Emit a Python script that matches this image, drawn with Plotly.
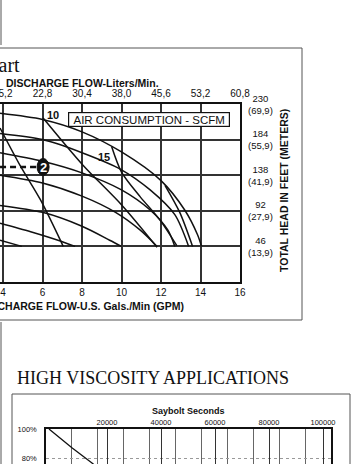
import plotly.graph_objects as go

W, H = 352, 464

# ---------------- main performance chart data ----------------
gpm_ticks = [4, 6, 8, 10, 12, 14, 16]
lpm_ticks = [15.2, 22.8, 30.4, 38.0, 45.6, 53.2, 60.8]
lpm_labels = ["15,2", "22,8", "30,4", "38,0", "45,6", "53,2", "60,8"]
head_ticks = [46, 92, 138, 184, 230]
meter_labels = ["(13,9)", "(27,9)", "(41,9)", "(55,9)", "(69,9)"]

# head curves (GPM, ft)
c1_gpm = [3.85, 6.0, 8.0, 10.0, 12.0, 13.2, 13.85, 14.05]
c1_head = [218, 210, 194, 168, 131, 93, 61, 46]
c2_gpm = [3.85, 6.0, 8.0, 10.0, 11.45, 12.7, 13.4]
c2_head = [192, 184, 167, 145, 119, 87, 46]
c3_gpm = [3.85, 6.0, 8.0, 10.0, 11.45, 12.35, 12.7]
c3_head = [167, 156, 141, 119, 93, 67, 46]
c4_gpm = [3.85, 6.0, 8.0, 9.7, 10.95, 11.8]
c4_head = [138, 128, 111, 90, 67, 46]
c5_gpm = [3.85, 6.0, 8.0, 9.4, 10.0]
c5_head = [99, 90, 72, 54, 46]
c6_gpm = [3.85, 5.4, 6.9, 7.65]
c6_head = [76, 65, 53, 46]
c7_gpm = [3.85, 4.95]
c7_head = [54, 46]

# air consumption curves (GPM, ft)
a5_gpm = [3.85, 4.9, 5.9, 7.05]
a5_head = [199, 149, 106, 46]
a10_gpm = [6.03, 8.05, 10.03, 11.8]
a10_head = [212, 151, 99, 45]
a15_gpm = [9.5, 10.0, 10.95, 11.95, 12.8]
a15_head = [175, 142, 110, 80, 47]
a20_gpm = [12.2, 12.95, 13.6]
a20_head = [125, 90, 46]

scfm_labels = ["10", "15"]
scfm_label_gpm = [6.53, 9.11]
scfm_label_head = [215.8, 161.5]

example_label = "2"
example_gpm = 6.03
example_head = 148.6
example_line_gpm = [3.85, 5.7]

# ---------------- high viscosity chart data ----------------
cps_range = [0, 22000]
ssu_ticks = [20000, 40000, 60000, 80000, 100000]
pct_ticks = [80, 100]
pct_labels = ["80%", "100%"]
visc_cps = [230, 2000, 3550, 4200]
visc_pct = [100, 87, 76.5, 72]

FONT = "Liberation Sans, Arial, Helvetica, sans-serif"
SERIF = "Liberation Serif, Times New Roman, serif"


def px(x):
    return x / W


def py(y):
    return 1 - y / H


fig = go.Figure()

line_style = dict(color="#111111", width=1.5, shape="spline", smoothing=0.8)
for gx, hy in [(c1_gpm, c1_head), (c2_gpm, c2_head), (c3_gpm, c3_head),
               (c4_gpm, c4_head), (c5_gpm, c5_head), (c6_gpm, c6_head),
               (c7_gpm, c7_head), (a5_gpm, a5_head), (a10_gpm, a10_head),
               (a15_gpm, a15_head), (a20_gpm, a20_head)]:
    fig.add_trace(go.Scatter(x=gx, y=hy, mode="lines", line=line_style,
                             xaxis="x", yaxis="y", hoverinfo="skip", showlegend=False))

# dashed example line
fig.add_trace(go.Scatter(x=example_line_gpm, y=[example_head] * len(example_line_gpm),
                         mode="lines", line=dict(color="#111111", width=2.5, dash="6px,4px"),
                         xaxis="x", yaxis="y", hoverinfo="skip", showlegend=False))

# liters axis helper trace (invisible)
fig.add_trace(go.Scatter(x=lpm_ticks, y=[None] * len(lpm_ticks), mode="lines",
                         xaxis="x2", yaxis="y", hoverinfo="skip", showlegend=False))

# viscosity curve
fig.add_trace(go.Scatter(x=visc_cps, y=visc_pct, mode="lines",
                         line=dict(color="#111111", width=1.3),
                         xaxis="x3", yaxis="y3", hoverinfo="skip", showlegend=False))
fig.add_trace(go.Scatter(x=ssu_ticks, y=[None] * len(ssu_ticks), mode="lines",
                         xaxis="x4", yaxis="y3", hoverinfo="skip", showlegend=False))

gpm_lo = 4 - 3 / 19.75
main_x_dom = [0, px(240)]
main_y_dom = [py(282), py(104)]

fig.update_layout(
    width=W, height=H, margin=dict(l=0, r=0, t=0, b=0, autoexpand=False), autosize=False,
    paper_bgcolor="white", plot_bgcolor="white", showlegend=False,
    font=dict(family=FONT, color="#111111"),
    xaxis=dict(domain=main_x_dom, range=[gpm_lo, 16], anchor="y",
               tickvals=gpm_ticks, ticks="", showgrid=True, gridcolor="#333333", gridwidth=1.5,
               showline=True, linecolor="#111111", linewidth=2, mirror=True, zeroline=False,
               tickfont=dict(size=10, family=FONT, color="#111111"), ticklabelstandoff=0,
               automargin=False),
    xaxis2=dict(overlaying="x", side="top", anchor="y", range=[gpm_lo * 3.8, 16 * 3.8],
                tickvals=lpm_ticks[1:], ticktext=lpm_labels[1:], ticks="", showgrid=False,
                zeroline=False, showline=False, automargin=False,
                tickfont=dict(size=10, family=FONT, color="#111111"), ticklabelstandoff=4),
    yaxis=dict(domain=main_y_dom, range=[0, 230], anchor="x", tickvals=head_ticks,
               showticklabels=False, ticks="", showgrid=True, gridcolor="#333333", gridwidth=1.5,
               showline=True, linecolor="#111111", linewidth=2, mirror=True, zeroline=False,
               automargin=False),
    xaxis3=dict(domain=[px(46), px(331)], range=cps_range, anchor="y3", dtick=2000,
                showticklabels=False, ticks="", showgrid=True, gridcolor="#666666", gridwidth=1,
                showline=True, linecolor="#111111", linewidth=1.5, mirror=True, zeroline=False,
                automargin=False),
    xaxis4=dict(overlaying="x3", side="top", anchor="y3",
                range=[(46 - 53) / 0.0027, (331 - 53) / 0.0027],
                tickvals=ssu_ticks, tickformat="d", ticks="", showgrid=True,
                gridcolor="#333333", gridwidth=1, zeroline=False, showline=False,
                tickfont=dict(size=7.5, family=FONT, color="#111111"), ticklabelstandoff=2,
                automargin=False),
    yaxis3=dict(domain=[0, py(429)], range=[100 - 35 / 1.45, 100], anchor="x3",
                tickvals=pct_ticks, ticktext=pct_labels, ticks="", showgrid=True,
                gridcolor="#999999", griddash="dot", gridwidth=1,
                showline=True, linecolor="#111111", linewidth=1.5, mirror=True, zeroline=False,
                tickfont=dict(size=7.5, family=FONT, color="#111111"), ticklabelstandoff=6,
                automargin=False),
)

annotations = []
# first liters label (partly past the left edge)
annotations.append(dict(x=lpm_ticks[0], y=py(93.5), xref="x2", yref="paper", text=lpm_labels[0],
                        showarrow=False, xanchor="center", yanchor="middle",
                        font=dict(size=10, family=FONT, color="#111111")))
# right head labels
for h, m in zip(head_ticks, meter_labels):
    annotations.append(dict(x=px(260), y=h, xref="paper", yref="y", text=f"{h}<br>{m}",
                            showarrow=False, xanchor="center", yanchor="middle", align="center",
                            font=dict(size=9.5, family=FONT, color="#111111")))
annotations += [
    dict(x=px(284), y=py(191), xref="paper", yref="paper", text="<b>TOTAL HEAD IN FEET (METERS)</b>",
         textangle=-90, showarrow=False, xanchor="center", yanchor="middle",
         font=dict(size=10.5, family=FONT, color="#111111")),
    dict(x=8, y=py(82.5), xref="x", yref="paper", text="<b>DISCHARGE FLOW-Liters/Min.</b>",
         showarrow=False, xanchor="center", yanchor="middle",
         font=dict(size=10.5, family=FONT, color="#111111")),
    dict(x=8, y=py(306), xref="x", yref="paper", text="<b>DISCHARGE FLOW-U.S. Gals./Min (GPM)</b>",
         showarrow=False, xanchor="center", yanchor="middle",
         font=dict(size=10.5, family=FONT, color="#111111")),
    dict(x=11.39, y=210, xref="x", yref="y", text="AIR CONSUMPTION - SCFM",
         showarrow=False, xanchor="center", yanchor="middle", bgcolor="white",
         bordercolor="#111111", borderwidth=1.2, borderpad=1, width=158, height=11,
         font=dict(size=11.5, family=FONT, color="#111111")),
    dict(x=example_gpm, y=example_head, xref="x", yref="y", text=f"<b>{example_label}</b>",
         showarrow=False, xanchor="center", yanchor="middle",
         font=dict(size=13, family=FONT, color="white")),
    dict(x=px(22), y=py(65), xref="paper", yref="paper", text="Performance Chart",
         showarrow=False, xanchor="right", yanchor="middle",
         font=dict(size=20, family=SERIF, color="#111111")),
    dict(x=px(152.5), y=py(378), xref="paper", yref="paper", text="HIGH VISCOSITY APPLICATIONS",
         showarrow=False, xanchor="center", yanchor="middle",
         font=dict(size=18, family=SERIF, color="#111111")),
    dict(x=px(188), y=py(411), xref="paper", yref="paper", text="<b>Saybolt Seconds</b>",
         showarrow=False, xanchor="center", yanchor="middle",
         font=dict(size=9, family=FONT, color="#111111")),
]
for t, gx, hy in zip(scfm_labels, scfm_label_gpm, scfm_label_head):
    annotations.append(dict(x=gx, y=hy, xref="x", yref="y", text=f"<b>{t}</b>", showarrow=False,
                            xanchor="center", yanchor="middle",
                            font=dict(size=11, family=FONT, color="#111111")))
fig.update_layout(annotations=annotations)

frame = dict(color="#555555", width=1)
shapes = [
    dict(type="line", xref="paper", yref="paper", x0=px(0), x1=px(302), y0=py(48), y1=py(48), line=frame),
    dict(type="line", xref="paper", yref="paper", x0=px(302), x1=px(302), y0=py(48), y1=py(320), line=frame),
    dict(type="line", xref="paper", yref="paper", x0=px(0), x1=px(302), y0=py(320), y1=py(320), line=frame),
    dict(type="line", xref="paper", yref="paper", x0=px(1), x1=px(1), y0=py(0), y1=py(45), line=frame),
    dict(type="line", xref="paper", yref="paper", x0=px(1), x1=px(1), y0=py(322), y1=py(464), line=frame),
    dict(type="line", xref="paper", yref="paper", x0=px(12), x1=px(350), y0=py(394), y1=py(394), line=frame),
    dict(type="line", xref="paper", yref="paper", x0=px(12), x1=px(12), y0=py(394), y1=py(464), line=frame),
    dict(type="line", xref="paper", yref="paper", x0=px(350), x1=px(350), y0=py(394), y1=py(464), line=frame),
    # oval behind the example number
    dict(type="circle", xref="x", yref="y", xsizemode="pixel", ysizemode="pixel",
         xanchor=example_gpm, yanchor=example_head, x0=-6, x1=6, y0=-8.5, y1=8.5,
         fillcolor="#111111", line=dict(color="#111111", width=1), layer="above"),
]
fig.update_layout(shapes=shapes)

fig.write_html("out.html")
